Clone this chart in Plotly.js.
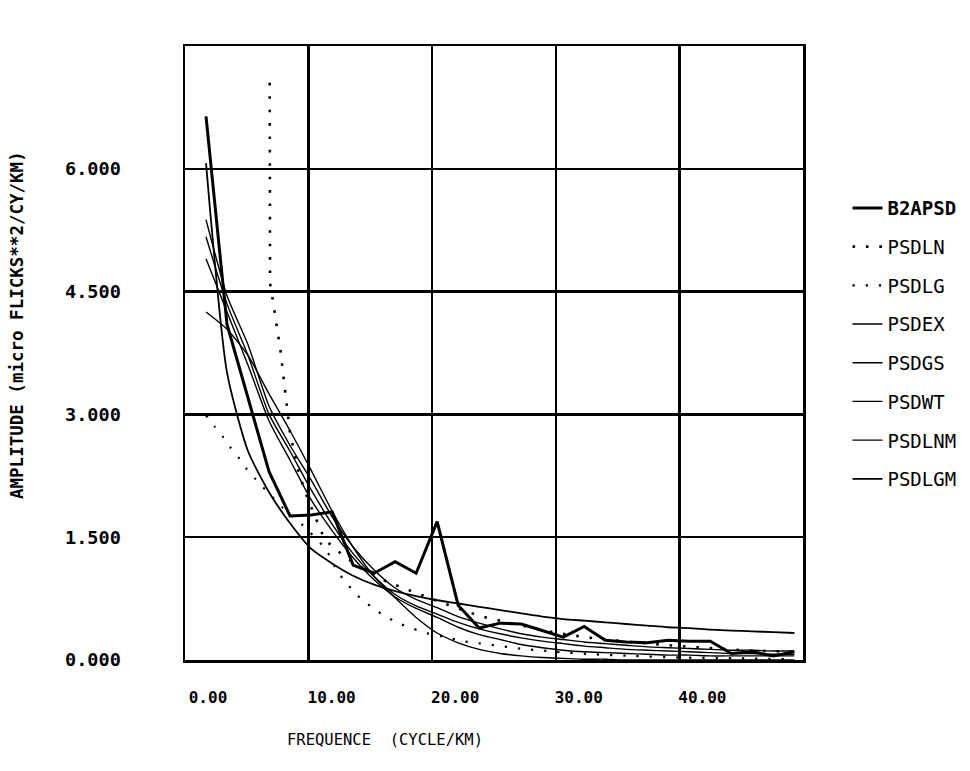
<!DOCTYPE html>
<html>
<head>
<meta charset="utf-8">
<script src="https://cdn.plot.ly/plotly-3.0.1.min.js"></script>
<style>html,body{margin:0;padding:0;background:#fff;}#chart{width:970px;height:771px;}</style>
</head>
<body>
<div id="chart"></div>
<script>
// Frequency grid (cycle/km) shared by the measured spectrum and the fitted models
const freq = [1.7,3.4,5.1,6.8,8.5,10.2,11.9,13.6,15.3,17.0,18.7,20.4,22.1,23.8,25.5,27.2,28.9,30.6,32.3,34.0,35.7,37.4,39.1,40.8,42.5,44.2,45.9,47.6,49.3];

const b2apsd = [6.64,4.10,3.20,2.30,1.76,1.77,1.81,1.16,1.06,1.20,1.06,1.69,0.67,0.39,0.45,0.44,0.36,0.28,0.41,0.24,0.22,0.21,0.24,0.23,0.23,0.08,0.10,0.05,0.10];
const psdex  = [5.38,4.45,3.85,3.10,2.62,2.20,1.75,1.38,1.10,0.88,0.74,0.64,0.53,0.45,0.38,0.32,0.28,0.25,0.22,0.20,0.18,0.16,0.15,0.14,0.13,0.12,0.12,0.11,0.11];
const psdgs  = [4.25,4.04,3.72,3.25,2.80,2.32,1.82,1.38,1.02,0.76,0.52,0.33,0.21,0.13,0.08,0.05,0.03,0.02,0.01,0.01,0.00,0.00,0.00,0.00,0.00,0.00,0.00,0.00,0.00];
const psdwt  = [5.17,4.35,3.72,3.00,2.55,2.08,1.66,1.30,1.02,0.80,0.66,0.56,0.46,0.38,0.32,0.27,0.23,0.20,0.17,0.15,0.13,0.12,0.11,0.10,0.09,0.08,0.08,0.07,0.07];
const psdlnm = [4.90,4.25,3.60,2.92,2.44,1.96,1.58,1.25,0.98,0.77,0.63,0.52,0.40,0.31,0.25,0.19,0.15,0.12,0.10,0.09,0.08,0.07,0.06,0.06,0.05,0.05,0.05,0.05,0.05];
const psdlgm = [6.07,3.51,2.55,2.05,1.67,1.36,1.18,1.03,0.92,0.84,0.78,0.73,0.69,0.65,0.61,0.57,0.53,0.50,0.48,0.46,0.44,0.42,0.40,0.39,0.37,0.36,0.35,0.34,0.33];

// Dotted curves, read along their own abscissae
const psdlnFreq = [6.85,6.88,7.1,7.45,7.75,8.0,8.25,8.5,8.95,9.2,9.9,11.3,13.0,15.2,15.8,17.8,20.8,23.8,24.9,29.1,30.1,32.3,36.0,40.0,45.0,49.3];
const psdln     = [7.05,4.60,4.40,4.07,3.75,3.42,3.09,2.77,2.46,2.29,1.98,1.47,1.25,1.04,0.99,0.87,0.70,0.54,0.50,0.36,0.33,0.28,0.22,0.17,0.12,0.10];
const psdlgFreq = [1.7,2.4,3.1,3.7,4.4,5.0,5.7,7.2,7.9,9.5,11.3,11.9,12.3,13.1,13.7,14.5,15.4,16.3,17.2,18.2,19.2,21.4,22.4,23.5,24.5,25.5,26.6,27.6,28.7,30.0,33.0,36.0,40.0,45.0,49.3];
const psdlg     = [2.99,2.85,2.72,2.59,2.46,2.33,2.21,1.97,1.86,1.65,1.37,1.22,1.08,0.94,0.82,0.72,0.61,0.53,0.45,0.40,0.34,0.27,0.23,0.21,0.19,0.17,0.15,0.13,0.12,0.10,0.07,0.05,0.03,0.02,0.01];

const xTickVals = [0,10,20,30,40];
const xTickText = ["0.00","10.00","20.00","30.00","40.00"];
const yTickVals = [0,1.5,3,4.5,6];
const yTickText = ["0.000","1.500","3.000","4.500","6.000"];

const MONO = "DejaVu Sans Mono";
const thin = {color:"#000", width:1.4, shape:"spline", smoothing:0.6};

const traces = [
  {x:freq, y:psdex,  name:"PSDEX",  legendrank:4, line:thin},
  {x:freq, y:psdgs,  name:"PSDGS",  legendrank:5, line:thin},
  {x:freq, y:psdwt,  name:"PSDWT",  legendrank:6, line:thin},
  {x:freq, y:psdlnm, name:"PSDLNM", legendrank:7, line:thin},
  {x:freq, y:psdlgm, name:"PSDLGM", legendrank:8, line:{color:"#000", width:1.8, shape:"spline", smoothing:0.6}},
  {x:psdlnFreq, y:psdln, name:"PSDLN", legendrank:2, line:{color:"#000", width:2.6, dash:"2.6px,10.8px"}},
  {x:psdlgFreq, y:psdlg, name:"PSDLG", legendrank:3, line:{color:"#000", width:2.2, dash:"2.2px,11px", shape:"spline", smoothing:0.5}},
  {x:freq, y:b2apsd, name:"<b>B2APSD</b>", legendrank:1, line:{color:"#000", width:3}}
].map((t,i)=>Object.assign({type:"scatter", mode:"lines", hoverinfo:"skip", legendgroup:"g"+i}, t));

const layout = {
  width:970, height:771,
  margin:{l:185, r:167, t:46, b:111, autoexpand:false},
  paper_bgcolor:"#fff", plot_bgcolor:"#fff",
  showlegend:true,
  legend:{x:1.072, xanchor:"left", y:0.767, yanchor:"top", font:{family:MONO, size:19, color:"#000"},
          tracegroupgap:11, bgcolor:"rgba(0,0,0,0)", itemwidth:30},
  xaxis:{range:[0,50], tickvals:xTickVals, ticktext:xTickText, ticks:"",
         showgrid:true, gridcolor:"#000", gridwidth:2.5, zeroline:false,
         showline:true, mirror:true, linecolor:"#000", linewidth:2.5,
         ticklabelshift:23, ticklabelstandoff:21,
         tickfont:{family:MONO, size:16, weight:"bold", color:"#000"}},
  yaxis:{range:[0,7.5], tickvals:yTickVals, ticktext:yTickText, ticks:"",
         showgrid:true, gridcolor:"#000", gridwidth:2.5, zeroline:false,
         showline:true, mirror:true, linecolor:"#000", linewidth:2.5,
         ticklabelstandoff:58,
         tickfont:{family:MONO, size:18.5, weight:"bold", color:"#000"}},
  annotations:[
    {text:"FREQUENCE  (CYCLE/KM)", xref:"paper", yref:"paper", x:(385-185)/618, y:-(740-660)/614,
     xanchor:"center", yanchor:"middle", showarrow:false, font:{family:MONO, size:15.5, color:"#000"}},
    {text:"AMPLITUDE (micro FLICKS**2/CY/KM)", xref:"paper", yref:"paper", x:-(185-17)/618, y:(660-325)/614,
     xanchor:"center", yanchor:"middle", textangle:-90, showarrow:false, font:{family:MONO, size:17.5, weight:"bold", color:"#000"}}
  ]
};

Plotly.newPlot("chart", traces, layout, {displayModeBar:false, staticPlot:true});
</script>
</body>
</html>
